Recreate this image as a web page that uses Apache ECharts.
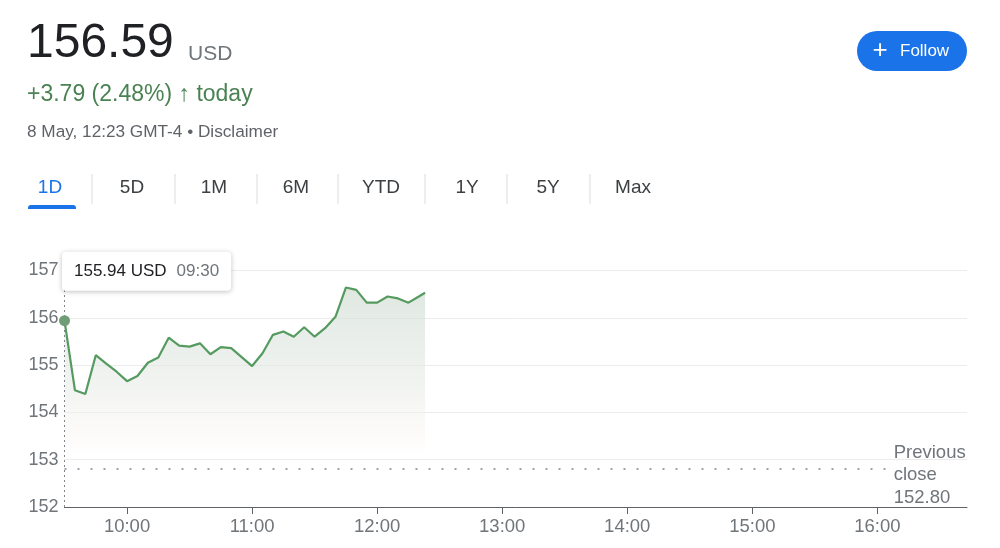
<!DOCTYPE html>
<html>
<head>
<meta charset="utf-8">
<script src="https://cdn.jsdelivr.net/npm/echarts@6/dist/echarts.min.js"></script>
<style>
html,body{margin:0;padding:0;background:#fff;}
#c{width:1000px;height:548px;}
</style>
</head>
<body>
<div id="c"></div>
<script>
// ---- data ----
const times = ['09:30','09:35','09:40','09:45','09:50','09:55','10:00','10:05','10:10','10:15','10:20','10:25',
  '10:30','10:35','10:40','10:45','10:50','10:55','11:00','11:05','11:10','11:15','11:20','11:25',
  '11:30','11:35','11:40','11:45','11:50','11:55','12:00','12:05','12:10','12:15','12:20','12:23'];
const prices = [155.94,154.47,154.39,155.21,155.03,154.86,154.66,154.77,155.05,155.16,155.58,155.41,
  155.39,155.46,155.23,155.38,155.36,155.17,154.98,155.25,155.64,155.71,155.60,155.80,
  155.60,155.78,156.02,156.64,156.59,156.32,156.32,156.45,156.41,156.32,156.45,156.53];
const prevClose = 152.80;
const xTickLabels = ['10:00','11:00','12:00','13:00','14:00','15:00','16:00'];
const yTicks = [152,153,154,155,156,157];
const sessionStart = '09:30';
const axisEnd = '16:43';
const prevCloseEnd = '16:04';
const tabs = ['1D','5D','1M','6M','YTD','1Y','5Y','Max'];
const quote = {price:'156.59', currency:'USD', change:'+3.79 (2.48%)', when:'today',
  stamp:'8 May, 12:23 GMT-4 • Disclaimer'};
const hover = {index:0};

// ---- helpers ----
const toMin = t => { const p = t.split(':'); return (+p[0])*60 + (+p[1]); };
const fmt = m => { const h = Math.floor(m/60), mm = m%60; return (h<10?'0':'')+h+':'+(mm<10?'0':'')+mm; };
const tickMinutes = xTickLabels.map(toMin);
const seriesData = times.map((t,i)=>[toMin(t), prices[i]]);

const FONT = "'Liberation Sans', Arial, sans-serif";
const grey = '#70757a';
const green = '#4b8253';

// layout (not data)
const tabCenters = [50,132,214,296,381,467,548,633];
const sepX = [92,175,257,338,425,507,590];

const graphics = [
  {type:'text', style:{x:27, y:44, text:quote.price, font:'48px '+FONT, fill:'#202124', verticalAlign:'middle'}},
  {type:'text', style:{x:188, y:54, text:quote.currency, font:'21px '+FONT, fill:grey, verticalAlign:'middle'}},
  {type:'text', style:{x:27, y:95, text:'{n|'+quote.change+' }{a|\u2191}{n| '+quote.when+'}', fill:green, verticalAlign:'middle',
    rich:{n:{fontSize:23, fontFamily:FONT, fill:green}, a:{fontSize:23, fontFamily:FONT, fontWeight:'bold', fill:green}}}},
  {type:'text', style:{x:27, y:132, text:quote.stamp, font:'17.2px '+FONT, fill:'#5f6368', verticalAlign:'middle'}},
  // Follow button
  {type:'rect', shape:{x:857, y:31, width:110, height:40, r:20}, style:{fill:'#1a73e8'}},
  {type:'text', style:{x:880, y:51, text:'+', font:'26px '+FONT, fill:'#fff', align:'center', verticalAlign:'middle'}},
  {type:'text', style:{x:900, y:51, text:'Follow', font:'17px '+FONT, fill:'#fff', verticalAlign:'middle'}},
  // underline active tab
  {type:'rect', shape:{x:28, y:205, width:48, height:4, r:[3,3,0,0]}, style:{fill:'#1a73e8'}}
];
tabs.forEach((t,i)=>{
  graphics.push({type:'text', style:{x:tabCenters[i], y:188, text:t, font:'19px '+FONT,
    fill: i===0 ? '#1a73e8' : '#3c4043', align:'center', verticalAlign:'middle'}});
});
sepX.forEach(x=>{
  graphics.push({type:'line', shape:{x1:x, y1:174, x2:x, y2:204}, style:{stroke:'#dadce0', lineWidth:1}});
});

const chart = echarts.init(document.getElementById('c'), null, {renderer:'canvas'});
chart.setOption({
  animation:false,
  backgroundColor:'#fff',
  graphic: graphics,
  grid:{left:64.5, right:33, top:270.5, bottom:41, containLabel:false},
  xAxis:{
    type:'value', min:toMin(sessionStart), max:toMin(axisEnd),
    axisLine:{show:true, onZero:false, lineStyle:{color:'#5f6368', width:1}},
    axisTick:{show:true, customValues:tickMinutes, length:7, lineStyle:{color:'#5f6368'}},
    axisLabel:{show:true, customValues:tickMinutes, formatter:v=>fmt(v), color:grey, fontSize:18.5, fontFamily:FONT, margin:10},
    splitLine:{show:false}
  },
  yAxis:{
    type:'value', min:yTicks[0], max:yTicks[yTicks.length-1], interval:1,
    axisLine:{show:false}, axisTick:{show:false},
    axisLabel:{color:grey, fontSize:18, fontFamily:FONT, margin:6},
    splitLine:{lineStyle:{color:'#ececec', width:1}}
  },
  series:[{
    type:'line',
    data:seriesData,
    symbol:'none',
    lineStyle:{color:'#559a5f', width:2.2},
    areaStyle:{color:{type:'linear', x:0, y:0, x2:0, y2:1, colorStops:[
      {offset:0, color:'rgba(208,220,210,0.95)'},
      {offset:0.45, color:'rgba(232,236,232,0.85)'},
      {offset:0.7, color:'rgba(250,246,244,0.55)'},
      {offset:0.8, color:'rgba(255,255,255,0)'}]}},
    z:3,
    markLine:{
      silent:true, symbol:['none','none'], animation:false,
      label:{show:false},
      data:[
        {xAxis:seriesData[hover.index][0], lineStyle:{type:[2,3], color:'#80868b', width:1}, label:{show:false}},
        [
          {coord:[toMin(sessionStart), prevClose], lineStyle:{type:[2,11], color:'#80868b', width:1.6},
            label:{show:true, position:'end', distance:8,
              formatter:'{s| }\n{t|Previous}\n{t|close}\n{t|'+prevClose.toFixed(2)+'}',
              align:'left',
              rich:{
                s:{lineHeight:12, fontSize:10},
                t:{color:grey, fontSize:18.5, fontFamily:FONT, lineHeight:22.5, align:'left'}
              }}},
          {coord:[toMin(prevCloseEnd), prevClose]}
        ]
      ]
    },
    markPoint:{
      silent:true, animation:false,
      data:[{
        coord:seriesData[hover.index],
        symbol:'circle', symbolSize:11,
        itemStyle:{color:'#6f9e76'},
        label:{
          show:true, position:[3,-63.5],
          formatter:'{a|'+prices[hover.index].toFixed(2)+' USD}{b|'+times[hover.index]+'}',
          backgroundColor:'#fff', borderRadius:4, padding:[11,12,11,12],
          shadowBlur:5, shadowColor:'rgba(0,0,0,0.25)', shadowOffsetY:1,
          rich:{
            a:{fontSize:17, fontFamily:FONT, color:'#202124'},
            b:{fontSize:17, fontFamily:FONT, color:grey, padding:[0,0,0,10]}
          }
        }
      }]
    }
  }]
});
</script>
</body>
</html>
